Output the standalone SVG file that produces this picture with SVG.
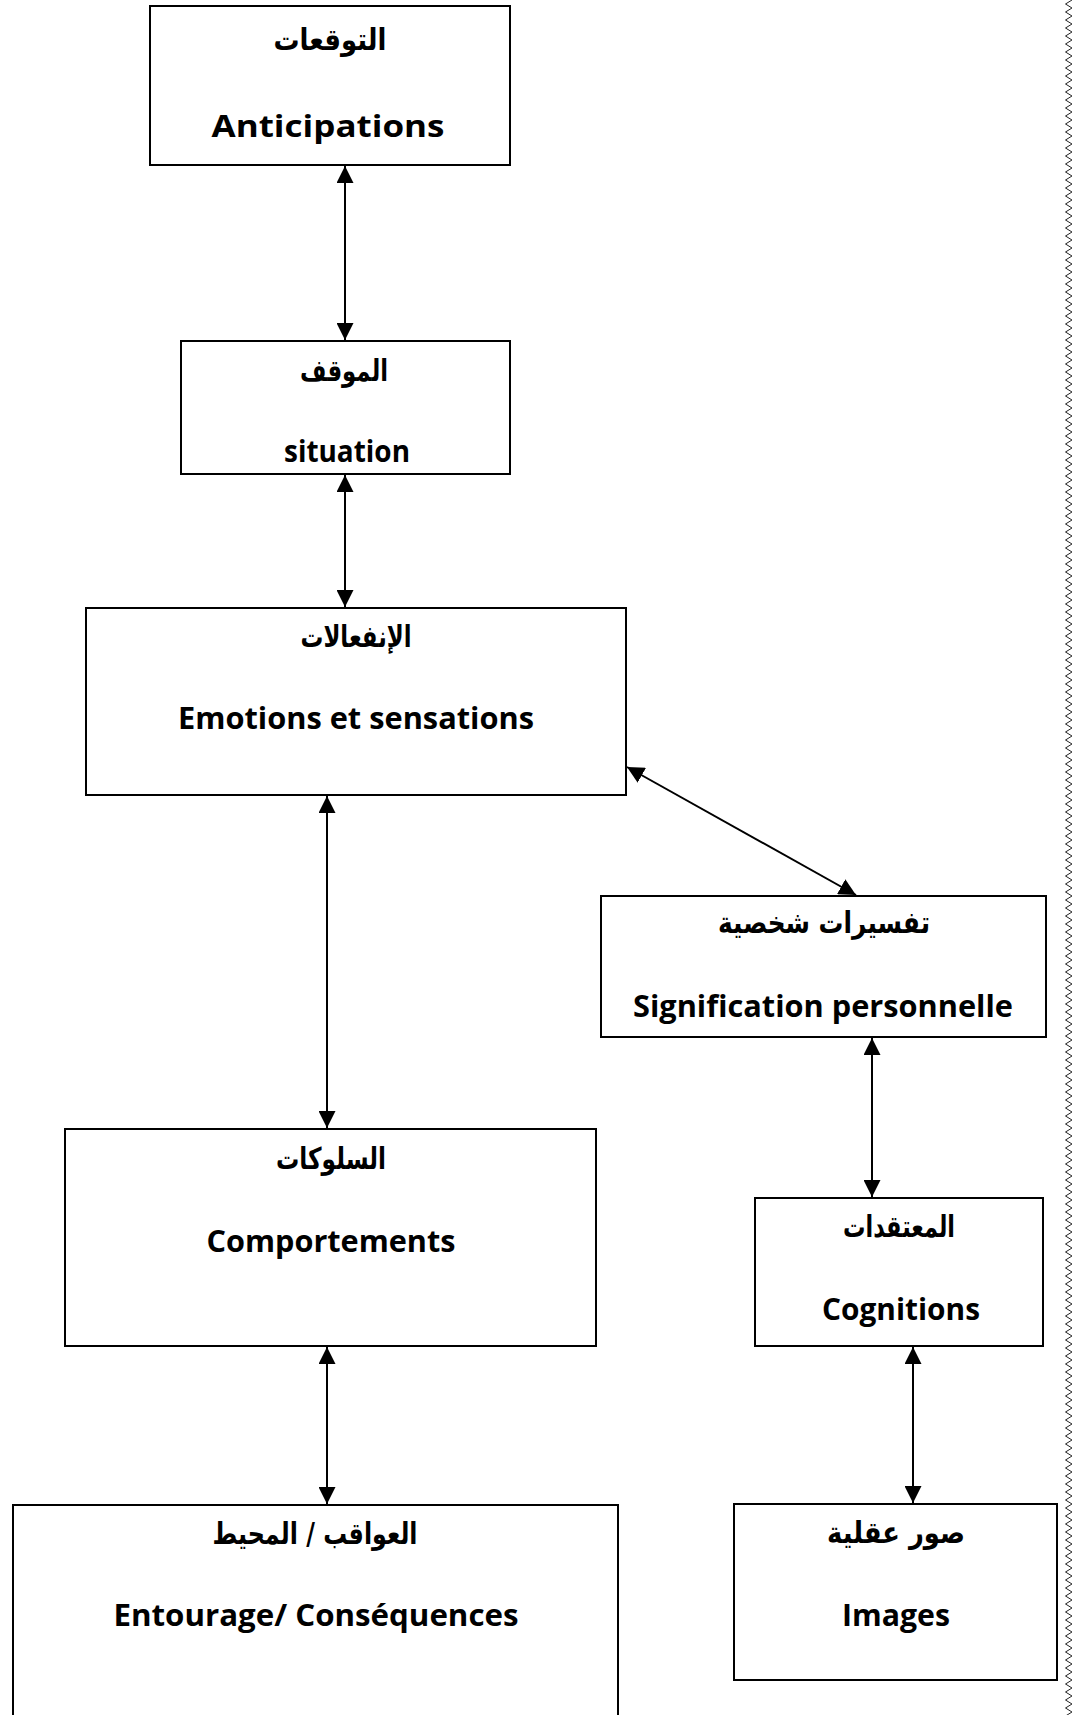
<svg xmlns="http://www.w3.org/2000/svg" width="1073" height="1715" viewBox="0 0 1073 1715">
  <style>
    .box { fill: #ffffff; stroke: #000000; stroke-width: 2; }
    .ar { font-family: "DejaVu Sans", "Noto Sans", sans-serif; font-weight: bold; font-size: 30px; fill: #000000; text-anchor: middle; }
    .en { font-family: "Open Sans", "Liberation Sans", sans-serif; font-weight: bold; font-size: 31px; fill: #000000; text-anchor: middle; }
    .conn { stroke: #000000; stroke-width: 2; fill: none; marker-start: url(#ah); marker-end: url(#ah); }
  </style>
  <defs>
    <marker id="ah" markerUnits="userSpaceOnUse" markerWidth="18" markerHeight="17" refX="17" refY="8.5" orient="auto-start-reverse" viewBox="0 0 18 17">
      <path d="M0,0 L17,8.5 L0,17 Z" fill="#000000"/>
    </marker>
    <pattern id="zz" patternUnits="userSpaceOnUse" x="1064" y="0" width="9" height="8">
      <path d="M8,0 L1.5,4 L8,8" fill="none" stroke="#222222" stroke-width="1"/>
    </pattern>
  </defs>
  <rect x="0" y="0" width="1073" height="1715" fill="#ffffff"/>
  <rect x="1064" y="0" width="9" height="1715" fill="url(#zz)"/>

  <g id="connectors">
    <line class="conn" x1="345" y1="166" x2="345" y2="340"/>
    <line class="conn" x1="345" y1="475" x2="345" y2="607"/>
    <line class="conn" x1="327" y1="796" x2="327" y2="1128"/>
    <line class="conn" x1="627" y1="767" x2="856" y2="895"/>
    <line class="conn" x1="872" y1="1038" x2="872" y2="1197"/>
    <line class="conn" x1="327" y1="1347" x2="327" y2="1504"/>
    <line class="conn" x1="913" y1="1347" x2="913" y2="1503"/>
  </g>

  <g id="node-anticipations">
    <rect class="box" x="150" y="6" width="360" height="159"/>
    <text class="ar" x="330" y="50" direction="rtl" textLength="113" lengthAdjust="spacingAndGlyphs">التوقعات</text>
    <text class="en" x="328" y="137" textLength="233" lengthAdjust="spacingAndGlyphs">Anticipations</text>
  </g>
  <g id="node-situation">
    <rect class="box" x="181" y="341" width="329" height="133"/>
    <text class="ar" x="344" y="381" direction="rtl" textLength="88" lengthAdjust="spacingAndGlyphs">الموقف</text>
    <text class="en" x="347" y="462" textLength="126" lengthAdjust="spacingAndGlyphs">situation</text>
  </g>
  <g id="node-emotions">
    <rect class="box" x="86" y="608" width="540" height="187"/>
    <text class="ar" x="356" y="647" direction="rtl" textLength="111" lengthAdjust="spacingAndGlyphs">الإنفعالات</text>
    <text class="en" x="356" y="729" textLength="356" lengthAdjust="spacingAndGlyphs">Emotions et sensations</text>
  </g>
  <g id="node-signification">
    <rect class="box" x="601" y="896" width="445" height="141"/>
    <text class="ar" x="824" y="933" direction="rtl" textLength="212" lengthAdjust="spacingAndGlyphs">تفسيرات شخصية</text>
    <text class="en" x="823" y="1017" textLength="380" lengthAdjust="spacingAndGlyphs">Signification personnelle</text>
  </g>
  <g id="node-comportements">
    <rect class="box" x="65" y="1129" width="531" height="217"/>
    <text class="ar" x="331" y="1169" direction="rtl" textLength="110" lengthAdjust="spacingAndGlyphs">السلوكات</text>
    <text class="en" x="331" y="1252" textLength="249" lengthAdjust="spacingAndGlyphs">Comportements</text>
  </g>
  <g id="node-cognitions">
    <rect class="box" x="755" y="1198" width="288" height="148"/>
    <text class="ar" x="899" y="1237" direction="rtl" textLength="112" lengthAdjust="spacingAndGlyphs">المعتقدات</text>
    <text class="en" x="901" y="1320" textLength="158" lengthAdjust="spacingAndGlyphs">Cognitions</text>
  </g>
  <g id="node-entourage">
    <rect class="box" x="13" y="1505" width="605" height="220"/>
    <text class="ar" x="315" y="1544" direction="rtl" textLength="205" lengthAdjust="spacingAndGlyphs">العواقب / المحيط</text>
    <text class="en" x="316" y="1626" textLength="405" lengthAdjust="spacingAndGlyphs">Entourage/ Conséquences</text>
  </g>
  <g id="node-images">
    <rect class="box" x="734" y="1504" width="323" height="176"/>
    <text class="ar" x="896" y="1543" direction="rtl" textLength="138" lengthAdjust="spacingAndGlyphs">صور عقلية</text>
    <text class="en" x="896" y="1626" textLength="108" lengthAdjust="spacingAndGlyphs">Images</text>
  </g>
</svg>
